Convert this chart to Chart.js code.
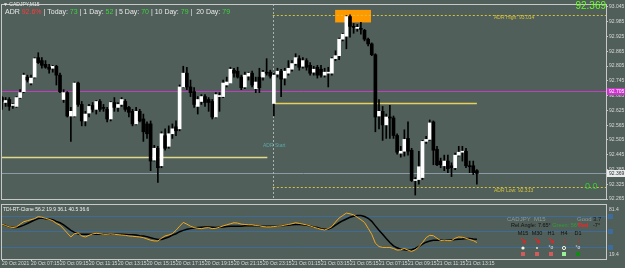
<!DOCTYPE html>
<html>
<head>
<meta charset="utf-8">
<script src="https://cdn.jsdelivr.net/npm/chart.js@4.4.0/dist/chart.umd.min.js"></script>
<style>
html, body { margin: 0; padding: 0; background: #505f5a; }
#wrap { position: relative; width: 625px; height: 268px; overflow: hidden; background: #505f5a; }
canvas { position: absolute; left: 0; }
#main { top: 0; }
#osc { top: 203px; }
</style>
</head>
<body>
<div id="wrap">
<canvas id="main" width="625" height="203"></canvas>
<canvas id="osc" width="625" height="65"></canvas>
</div>
<script>
// CADJPY M15, bars from 20 Oct 05:15 to 21 Oct 14:00
const opens = [92.677,92.657,92.669,92.645,92.641,92.677,92.701,92.760,92.736,92.760,
  92.839,92.827,92.812,92.800,92.796,92.804,92.768,92.669,92.697,92.602,
  92.602,92.736,92.649,92.582,92.614,92.645,92.629,92.661,92.637,92.629,
  92.590,92.657,92.637,92.649,92.661,92.637,92.621,92.570,92.621,92.590,
  92.570,92.570,92.423,92.471,92.400,92.522,92.479,92.530,92.558,92.550,
  92.720,92.776,92.720,92.701,92.641,92.661,92.681,92.669,92.661,92.598,
  92.681,92.681,92.728,92.736,92.788,92.784,92.760,92.720,92.764,92.776,
  92.713,92.760,92.760,92.780,92.780,92.653,92.772,92.784,92.756,92.776,
  92.792,92.815,92.835,92.804,92.827,92.808,92.780,92.800,92.792,92.768,
  92.776,92.776,92.835,92.847,92.914,92.926,93.006,92.966,92.958,92.958,
  92.950,92.914,92.895,92.851,92.602,92.621,92.566,92.598,92.594,92.523,
  92.451,92.459,92.511,92.463,92.340,92.344,92.352,92.499,92.507,92.578,
  92.467,92.419,92.400,92.419,92.400,92.392,92.443,92.455,92.459,92.400,
  92.400,92.380];
const highs = [92.681,92.677,92.677,92.653,92.681,92.709,92.776,92.768,92.768,92.839,
  92.859,92.839,92.827,92.812,92.808,92.808,92.776,92.709,92.701,92.637,
  92.740,92.740,92.661,92.621,92.649,92.657,92.665,92.669,92.649,92.637,
  92.661,92.677,92.657,92.677,92.669,92.641,92.629,92.637,92.629,92.610,
  92.578,92.582,92.483,92.479,92.538,92.550,92.562,92.570,92.582,92.728,
  92.804,92.800,92.748,92.717,92.681,92.689,92.689,92.677,92.669,92.697,
  92.697,92.748,92.760,92.800,92.796,92.800,92.768,92.780,92.780,92.784,
  92.760,92.796,92.788,92.835,92.788,92.776,92.796,92.792,92.796,92.827,
  92.827,92.855,92.847,92.839,92.835,92.819,92.804,92.808,92.808,92.796,
  92.800,92.839,92.867,92.918,92.938,93.010,93.013,92.978,92.974,92.982,
  92.954,92.918,92.899,92.855,92.669,92.641,92.610,92.645,92.602,92.530,
  92.479,92.546,92.578,92.471,92.352,92.459,92.503,92.519,92.586,92.582,
  92.479,92.431,92.443,92.443,92.412,92.451,92.479,92.479,92.471,92.419,
  92.419,92.384];
const lows = [92.629,92.641,92.625,92.633,92.637,92.673,92.697,92.740,92.728,92.756,
  92.815,92.796,92.796,92.776,92.780,92.728,92.697,92.657,92.598,92.499,
  92.598,92.641,92.562,92.562,92.598,92.618,92.610,92.621,92.621,92.578,
  92.582,92.621,92.621,92.641,92.621,92.598,92.562,92.566,92.578,92.499,
  92.511,92.380,92.419,92.332,92.392,92.463,92.471,92.511,92.522,92.542,
  92.717,92.709,92.681,92.637,92.610,92.649,92.641,92.621,92.590,92.594,
  92.621,92.677,92.720,92.736,92.760,92.756,92.709,92.713,92.748,92.720,
  92.697,92.697,92.748,92.768,92.756,92.602,92.760,92.681,92.728,92.768,
  92.784,92.808,92.788,92.796,92.788,92.768,92.768,92.756,92.760,92.760,
  92.720,92.768,92.827,92.831,92.907,92.875,92.922,92.938,92.946,92.934,
  92.907,92.887,92.847,92.538,92.550,92.503,92.511,92.511,92.511,92.447,
  92.435,92.439,92.443,92.336,92.281,92.325,92.344,92.491,92.503,92.404,
  92.400,92.392,92.380,92.372,92.356,92.384,92.439,92.419,92.392,92.372,
  92.364,92.325];
const closes = [92.661,92.665,92.641,92.649,92.677,92.697,92.768,92.748,92.756,92.835,
  92.819,92.808,92.800,92.792,92.804,92.768,92.701,92.697,92.602,92.621,
  92.736,92.649,92.582,92.610,92.641,92.629,92.661,92.629,92.633,92.590,
  92.657,92.637,92.649,92.669,92.629,92.617,92.570,92.621,92.582,92.538,
  92.530,92.419,92.471,92.392,92.530,92.471,92.530,92.550,92.542,92.720,
  92.776,92.720,92.697,92.649,92.669,92.681,92.657,92.657,92.598,92.689,
  92.685,92.736,92.740,92.792,92.776,92.760,92.717,92.768,92.776,92.728,
  92.740,92.717,92.780,92.776,92.764,92.768,92.784,92.752,92.784,92.796,
  92.815,92.839,92.800,92.827,92.800,92.776,92.792,92.768,92.768,92.780,
  92.780,92.835,92.847,92.914,92.934,93.006,92.966,92.962,92.962,92.954,
  92.914,92.895,92.851,92.598,92.621,92.566,92.598,92.594,92.523,92.455,
  92.459,92.507,92.459,92.340,92.344,92.396,92.499,92.507,92.574,92.463,
  92.404,92.404,92.419,92.388,92.392,92.443,92.455,92.459,92.400,92.396,
  92.372,92.369];

// TDI sub window
const tdiPrice = [58,56.4,54.8,54,54.8,58,60.8,62,63.2,64.4,
  66.8,66,64.8,63.6,62,58.8,56.8,52.4,47.7,43.1,
  46.9,47.7,44.3,43.1,45,46.6,47.3,46.9,46.2,46.2,
  46.6,46.2,45.8,45.4,45,44.3,43.9,43.5,43.1,42.3,
  40.8,39.3,38.5,38.5,41.6,44.3,45.4,46.9,50.8,55.6,
  60,58,55.6,54,53.2,52.8,53.6,54,52.8,53.2,
  54.4,56,57.2,58.4,59.6,59.2,58,57.6,57.2,57.2,
  56.4,56,55.2,54.8,54.8,55.2,55.6,56,56.8,57.6,
  58.4,59.6,58.8,58,57.2,56,54.4,53.2,52,51.2,
  52.8,55.2,60.4,65.2,68,70.8,70,68.8,66,63.2,
  60,53.2,46.2,35.8,32,30.9,30.9,30.9,29.7,27.8,
  28.2,29.7,27.8,26.3,28.2,31.6,36.6,42.3,45,44.6,
  41.6,38.9,39.3,38.9,38.9,41.6,43.1,42.7,41.6,40.1,
  38.9,36.6];
const tdiSignal = [58,56.4,54.8,54,54,55.2,56.8,58.8,60.8,62.8,
  64.4,65.2,64.4,64,63.2,61.2,59.6,57.2,54,50.8,
  48.5,46.6,46.2,46.2,46.2,46.2,46.2,46.2,46.2,46.2,
  46.2,46.2,46.2,46.2,46,45.8,45.8,45.4,44.6,44.3,
  43.5,42.3,41.2,40.1,40.1,41.6,43.1,45.4,46.9,49.2,
  50.8,52,52.8,53.6,54,54.4,54.8,54.8,54.4,54,
  54.4,54.8,55.2,55.6,55.6,55.6,55.6,56,56,56,
  56,55.6,55.6,55.6,55.6,55.6,55.6,56,56.4,56.8,
  57.2,57.6,57.6,57.2,56.8,56,54.8,54,52.8,52,
  52.4,54,56.8,59.6,62,64,66,67.2,68,68,
  66.8,64.8,61.2,56,50.8,46.2,41.2,36.6,32.8,30.5,
  28.9,28.2,27.8,28.2,29.7,32,34.7,37,38.5,39.3,
  39.3,39.3,39.3,39.3,39.7,40.1,40.5,40.8,41.2,41.2,
  40.8,40.5];
const tdiLevels = [68, 50, 32];

// one label every 8 bars (2 hours)
const timeLabels = ['20 Oct 2021','20 Oct 07:15','20 Oct 09:15','20 Oct 11:15','20 Oct 13:15',
  '20 Oct 15:15','20 Oct 17:15','20 Oct 19:15','20 Oct 21:15','20 Oct 23:15','21 Oct 01:15',
  '21 Oct 03:15','21 Oct 05:15','21 Oct 07:15','21 Oct 09:15','21 Oct 11:15','21 Oct 13:15'];
const priceTicks = [93.045,92.985,92.925,92.865,92.805,92.745,92.685,92.625,92.565,92.505,92.445,92.385,92.325,92.265];

// levels drawn by the indicators
const bid = 92.369;
const adrHigh = 93.014;
const adrLow = 92.313;
const pivot = 92.705;
const prevOpen = 92.435;
const dayOpen = 92.653;
const dayStartBar = 75;
const lastBar = opens.length - 1;

const FONT = "'Liberation Sans', Arial, sans-serif";
const xMin = -0.276, xMax = 166.62;
const bars = opens.map((o, i) => i);

function txt(ctx, s, x, y, color, size, align, bold) {
  ctx.font = (bold ? 'bold ' : '') + size + 'px ' + FONT;
  ctx.fillStyle = color;
  ctx.textAlign = align || 'left';
  ctx.textBaseline = 'middle';
  ctx.fillText(s, x, y);
  return ctx.measureText(s).width;
}

function hline(ctx, x0, x1, y, color, w, dash) {
  ctx.save();
  ctx.strokeStyle = color;
  ctx.lineWidth = w || 1;
  ctx.setLineDash(dash || []);
  const yy = Math.round(y) + 0.5;
  ctx.beginPath();
  ctx.moveTo(x0, yy);
  ctx.lineTo(x1, yy);
  ctx.stroke();
  ctx.restore();
}

const mainOverlay = {
  id: 'mainOverlay',
  beforeDatasetsDraw(chart) {
    const { ctx, chartArea: a, scales: { x, y } } = chart;
    ctx.save();
    // high-of-day box
    const bx0 = x.getPixelForValue(91.9), bx1 = x.getPixelForValue(101.8);
    const by0 = y.getPixelForValue(93.033), by1 = y.getPixelForValue(92.982);
    ctx.fillStyle = '#ff9900';
    ctx.fillRect(bx0, by0, bx1 - bx0, by1 - by0);

    const xs = x.getPixelForValue(dayStartBar - 0.3);
    hline(ctx, a.left, a.right, y.getPixelForValue(pivot), '#c43cc4', 1);
    hline(ctx, a.left, a.right, y.getPixelForValue(bid), '#8b9aa6', 1);
    hline(ctx, a.left, x.getPixelForValue(73.2), y.getPixelForValue(prevOpen), '#e3d98a', 1.5);
    hline(ctx, xs, x.getPixelForValue(lastBar), y.getPixelForValue(dayOpen), '#e8cf5a', 1.5);
    hline(ctx, xs, a.right, y.getPixelForValue(adrHigh), '#d6c23a', 1, [2, 2]);
    hline(ctx, xs, a.right, y.getPixelForValue(adrLow), '#d6c23a', 1, [2, 2]);

    // day start
    ctx.strokeStyle = '#a9b3b0';
    ctx.setLineDash([2, 2]);
    ctx.lineWidth = 1;
    ctx.beginPath();
    ctx.moveTo(Math.round(xs) + 0.5, a.top);
    ctx.lineTo(Math.round(xs) + 0.5, a.bottom);
    ctx.stroke();
    ctx.restore();
  },
  afterDraw(chart) {
    const { ctx, chartArea: a, scales: { x, y } } = chart;
    ctx.save();
    // frame
    ctx.strokeStyle = '#c8c8c8';
    ctx.lineWidth = 1;
    ctx.strokeRect(a.left + 0.5, a.top + 0.5, a.right - a.left, a.bottom - a.top);

    // header
    txt(ctx, '\u25BC CADJPY,M15', 3, 5, '#e6e6e6', 5);
    const parts = [['ADR ', '#e8e8e8'], ['92.6%', '#ff3b3b'], [' | Today: ', '#e8e8e8'], ['73', '#3fd23f'],
      [' | 1 Day: ', '#e8e8e8'], ['52', '#3fd23f'], [' | 5 Day: ', '#e8e8e8'], ['70', '#3fd23f'],
      [' | 10 Day: ', '#e8e8e8'], ['79', '#3fd23f'], [' |  20 Day: ', '#e8e8e8'], ['79', '#3fd23f']];
    let hx = 5;
    parts.forEach(p => { hx += txt(ctx, p[0], hx, 12.5, p[1], 7); });

    txt(ctx, 'ADR High: ' + adrHigh.toFixed(3), 494, y.getPixelForValue(adrHigh) + 3, '#d6c23a', 5);
    txt(ctx, 'ADR Low: ' + adrLow.toFixed(3), 494, y.getPixelForValue(adrLow) + 3, '#d6c23a', 5);
    txt(ctx, 'ADR Start', 263, 146, '#5fa6a6', 5);
    txt(ctx, bid.toFixed(3), 606, 6.5, '#66ff22', 10, 'right');
    txt(ctx, '0.0', 585, 187, '#33cc33', 9);

    // price boxes on the axis
    const py = Math.round(y.getPixelForValue(pivot));
    ctx.fillStyle = '#cc33cc';
    ctx.fillRect(a.right + 1, py - 3, 18, 7);
    txt(ctx, pivot.toFixed(3), a.right + 3, py + 0.5, '#ffffff', 5);
    const qy = Math.round(y.getPixelForValue(bid));
    ctx.fillStyle = '#e8ecec';
    ctx.fillRect(a.right + 1, qy - 3, 18, 7);
    txt(ctx, bid.toFixed(3), a.right + 3, qy + 0.5, '#303030', 5);
    ctx.restore();
  }
};

new Chart(document.getElementById('main'), {
  type: 'bar',
  data: {
    datasets: [
      {
        data: bars.map(i => ({ x: i, y: [lows[i], highs[i]] })),
        backgroundColor: '#000000',
        barThickness: 1,
        grouped: false,
        order: 2
      },
      {
        data: bars.map(i => ({ x: i, y: [opens[i], closes[i]] })),
        backgroundColor: bars.map(i => closes[i] >= opens[i] ? '#ffffff' : '#000000'),
        barThickness: 3,
        minBarLength: 1,
        grouped: false,
        order: 1
      }
    ]
  },
  options: {
    responsive: false,
    animation: false,
    devicePixelRatio: 1,
    events: [],
    layout: { padding: { left: 1, top: 2, right: 0, bottom: 1 } },
    plugins: { legend: { display: false }, tooltip: { enabled: false } },
    scales: {
      x: { type: 'linear', min: xMin, max: xMax, offset: false, display: false },
      y: {
        position: 'right',
        min: 92.265,
        max: 93.0569,
        afterFit: s => { s.width = 19; },
        afterBuildTicks: s => { s.ticks = priceTicks.map(v => ({ value: v })); },
        ticks: {
          autoSkip: false,
          padding: 1,
          color: '#d8d8d8',
          font: { size: 5, family: FONT },
          callback: v => v.toFixed(3)
        },
        grid: { drawOnChartArea: false, tickLength: 2, color: '#c8c8c8' },
        border: { display: false }
      }
    }
  },
  plugins: [mainOverlay]
});

const oscOverlay = {
  id: 'oscOverlay',
  beforeDatasetsDraw(chart) {
    const { ctx, chartArea: a, scales: { y } } = chart;
    tdiLevels.forEach(v => hline(ctx, a.left, a.right, y.getPixelForValue(v), '#3e6c9a', 1));
  },
  afterDraw(chart) {
    const { ctx, chartArea: a, scales: { y } } = chart;
    ctx.save();
    ctx.strokeStyle = '#c8c8c8';
    ctx.lineWidth = 1;
    ctx.strokeRect(a.left + 0.5, a.top + 0.5, a.right - a.left, a.bottom - a.top);

    txt(ctx, 'TDI-RT-Clone 56.2 19.9 36.1 40.5 36.6', 3, 7, '#f0f0f0', 5);

    // info panel
    txt(ctx, 'CADJPY  M15', 507, 16, '#8e9894', 6);
    txt(ctx, 'Good', 577, 16, '#8e9894', 6);
    txt(ctx, '3.7', 593, 16, '#1a1a1a', 6);
    let ix = 511;
    ix += txt(ctx, 'Rel.Angle: 7.65\u00B0 ', ix, 22.5, '#111111', 5.5);
    txt(ctx, 'Green: 56\u00B0', ix, 22.5, '#2fa02f', 5.5);
    txt(ctx, 'Red', 578, 22.5, '#ff2020', 5.5, 'left', true);
    txt(ctx, '-7\u00B0', 593, 22.5, '#111111', 5.5);

    const tfs = ['M15', 'M30', 'H1', 'H4', 'D1'];
    const cx = [523, 537, 551, 564, 578];
    const arrows = ['\u2198', '\u2198', '\u2198', '\u2193', '\u2193'];
    const boxes = ['#d25c5c', '#d25c5c', '#d25c5c', '#98f098', '#138a13'];
    tfs.forEach((t, k) => {
      txt(ctx, t, cx[k], 30, '#111111', 5.5, 'center');
      txt(ctx, arrows[k], cx[k], 38, '#ff1a1a', 8, 'center', true);
      ctx.fillStyle = boxes[k];
      ctx.fillRect(cx[k] - 2, 49, 4, 4);
    });
    ctx.fillStyle = '#f4f4e0';
    ctx.beginPath(); ctx.arc(523, 45, 1.6, 0, Math.PI * 2); ctx.fill();
    ctx.beginPath(); ctx.arc(537, 45, 0.9, 0, Math.PI * 2); ctx.fill();
    txt(ctx, '\u00B0o', 551, 45, '#e0e0e0', 5, 'center');
    ctx.strokeStyle = '#f4f4e0';
    ctx.beginPath(); ctx.arc(564, 45, 1.6, 0, Math.PI * 2); ctx.stroke();
    txt(ctx, '\u00B0o', 578, 45, '#e0e0e0', 5, 'center');

    // scale marks
    tdiLevels.forEach(v => {
      const ly = Math.round(y.getPixelForValue(v));
      ctx.fillStyle = '#3e6c9a';
      ctx.fillRect(a.right + 2, ly - 2, 5, 5);
    });
    txt(ctx, '81.4', a.right + 3, 7, '#d8d8d8', 5);
    txt(ctx, '19.4', a.right + 3, 52, '#d8d8d8', 5);
    ctx.restore();
  }
};

new Chart(document.getElementById('osc'), {
  type: 'line',
  data: {
    datasets: [
      {
        data: bars.map(i => ({ x: i, y: tdiSignal[i] })),
        borderColor: '#000000',
        borderWidth: 1.5,
        pointRadius: 0,
        order: 2
      },
      {
        data: bars.map(i => ({ x: i, y: tdiPrice[i] })),
        borderColor: '#f0a820',
        borderWidth: 1,
        pointRadius: 0,
        order: 1
      }
    ]
  },
  options: {
    responsive: false,
    animation: false,
    devicePixelRatio: 1,
    events: [],
    layout: { padding: { left: 1, top: 1, right: 0, bottom: 0 } },
    plugins: { legend: { display: false }, tooltip: { enabled: false } },
    scales: {
      x: {
        type: 'linear',
        min: xMin,
        max: xMax,
        afterFit: s => { s.height = 9; },
        afterBuildTicks: s => { s.ticks = timeLabels.map((t, k) => ({ value: k * 8 })); },
        ticks: {
          align: 'start',
          maxRotation: 0,
          autoSkip: false,
          padding: 0,
          color: '#d8d8d8',
          font: { size: 5, family: FONT },
          callback: (v, k) => timeLabels[k]
        },
        grid: { drawOnChartArea: false, tickLength: 2, color: '#c8c8c8' },
        border: { display: false }
      },
      y: {
        position: 'right',
        min: 17.5,
        max: 81.4,
        afterFit: s => { s.width = 19; },
        ticks: { display: false },
        grid: { display: false },
        border: { display: false }
      }
    }
  },
  plugins: [oscOverlay]
});
</script>
</body>
</html>
